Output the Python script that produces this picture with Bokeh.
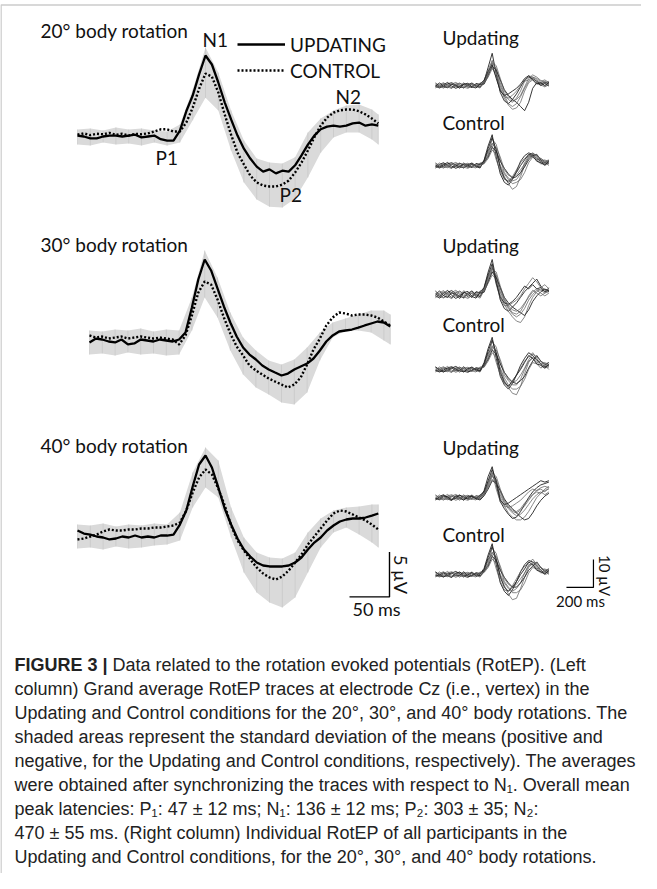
import math
from bokeh.plotting import figure
from bokeh.models import Range1d, Label, Legend, LegendItem, BoxAnnotation
from bokeh.embed import file_html
from bokeh.resources import INLINE

# ------------------------------------------------------------------ data
rotations = ["20° body rotation", "30° body rotation", "40° body rotation"]

ga_t = list(range(0, 377, 8))                 # ms, grand-average sampling
band_t = list(range(0, 369, 16)) + [376]      # ms, SD band sampling
ind_t = list(range(0, 841, 30))               # ms, individual traces sampling

# grand averages (µV, negative up)
upd20 = [-0.1, 0.0, 0.2, 0.2, 0.0, -0.1, -0.1, 0.0, -0.1, -0.2,
         0.1, 0.0, -0.1, 0.3, 0.45, 0.45, -0.65, -2.8, -4.55, -6.9,
         -9.0, -8.0, -6.0, -3.8, -1.9, -0.1, 1.35, 2.45, 3.35, 3.9,
         3.65, 4.1, 3.8, 3.9, 3.2, 2.1, 0.9, -0.1, -0.8, -1.1,
         -1.2, -1.1, -1.2, -1.45, -1.55, -1.2, -1.35, -1.2]
ctl20 = [-0.2, -0.35, -0.15, -0.3, -0.25, -0.4, -0.2, -0.3, -0.1, -0.3,
         -0.25, -0.35, -0.55, -0.8, -0.8, -0.55, -0.55, -1.55, -3.2, -5.3,
         -7.0, -6.65, -4.9, -2.45, -0.2, 1.8, 3.1, 4.35, 5.1, 5.45,
         5.55, 5.55, 5.35, 4.9, 4.0, 2.9, 1.55, 0.1, -1.2, -2.1,
         -2.65, -2.9, -3.0, -3.0, -2.8, -2.45, -2.0, -1.45]
band20_hi = [-0.78, -0.89, -0.67, -1.0, -0.78, -0.89, -0.67, -0.56, -1.33, -5.2,
             -9.9, -7.1, -2.9, 0.44, 2.45, 2.9, 3.0, 2.3, -0.44, -2.0,
             -2.9, -3.45, -3.55, -3.0, -2.45]
band20_lo = [0.89, 1.0, 0.67, 0.89, 0.78, 1.0, 0.67, 1.0, 0.67, -1.8,
             -4.3, -2.9, 1.55, 5.1, 7.0, 7.8, 7.9, 6.9, 4.55, 1.8,
             0.1, -0.45, -0.45, 0.33, 0.89]

upd30 = [0.22, -0.22, -0.11, 0.11, 0.22, -0.11, 0.44, 0.33, -0.11, 0.0,
         0.11, -0.11, 0.0, 0.11, -0.11, -0.89, -3.67, -6.78, -9.0, -7.78,
         -5.78, -3.78, -2.0, -0.44, 0.78, 1.56, 2.11, 2.78, 3.22, 3.56,
         3.89, 3.67, 3.22, 2.89, 2.56, 2.0, 1.11, 0.11, -0.56, -1.0,
         -1.11, -1.22, -1.44, -1.67, -1.89, -2.11, -2.0, -1.56]
ctl30 = [-0.56, -0.33, -0.44, -0.22, -0.33, -0.44, -0.22, -0.33, -0.44, -0.33,
         -0.22, -0.33, -0.22, -0.11, 0.44, -0.56, -2.78, -5.33, -6.56, -6.22,
         -4.56, -2.56, -0.78, 0.67, 1.67, 2.78, 3.33, 3.78, 4.22, 4.56,
         4.89, 5.22, 4.89, 4.11, 2.67, 1.0, -0.22, -1.67, -2.56, -3.11,
         -3.0, -2.78, -2.89, -2.89, -2.78, -2.56, -2.11, -1.67]
band30_hi = [-1.11, -1.0, -1.22, -1.11, -1.33, -1.0, -1.22, -1.11, -4.78, -10.0,
             -7.0, -3.11, -0.33, 1.11, 2.22, 2.67, 2.11, 0.78, -0.89, -2.0,
             -2.44, -2.89, -3.33, -3.33, -2.89]
band30_lo = [1.56, 1.44, 1.67, 1.33, 1.56, 1.44, 1.67, 1.56, -1.11, -4.78,
             -2.56, 1.11, 3.78, 5.22, 6.0, 6.89, 7.11, 5.78, 2.22, -0.33,
             -1.11, -1.11, -0.89, 0.0, 0.44]

upd40 = [-0.78, -0.44, -0.33, -0.11, 0.0, 0.22, 0.11, -0.11, 0.0, -0.22,
         0.0, -0.11, 0.0, -0.22, -0.22, -0.33, -1.44, -3.0, -5.67, -8.11,
         -9.11, -7.78, -5.56, -3.22, -1.44, 0.11, 1.33, 2.11, 2.78, 3.11,
         3.22, 3.22, 3.22, 3.11, 2.78, 2.22, 1.33, 0.56, 0.0, -0.78,
         -1.33, -1.78, -2.0, -2.11, -2.11, -2.22, -2.44, -2.67]
ctl40 = [0.22, 0.11, -0.11, -0.33, -0.67, -0.89, -0.78, -0.78, -0.89, -0.89,
         -1.0, -1.0, -1.11, -1.11, -1.22, -1.33, -1.67, -3.0, -5.0, -6.67,
         -7.56, -7.0, -5.44, -3.56, -1.33, 0.33, 1.44, 2.44, 3.33, 4.0,
         4.44, 4.67, 4.33, 3.67, 2.78, 1.89, 0.78, -0.11, -1.0, -1.89,
         -2.67, -3.0, -2.89, -2.56, -2.22, -1.89, -1.44, -0.89]
band40_hi = [-1.44, -1.33, -1.56, -1.22, -1.44, -1.33, -1.56, -1.44, -2.78, -7.22,
             -10.0, -8.56, -3.33, 0.0, 1.67, 2.22, 2.33, 1.67, -0.56, -2.11,
             -3.0, -3.33, -3.44, -3.67, -3.67]
band40_lo = [1.22, 1.11, 1.33, 1.0, 1.22, 1.11, 0.89, 0.78, 0.33, -3.33,
             -5.56, -4.44, 0.0, 3.89, 6.11, 7.22, 7.78, 6.67, 3.89, 1.11,
             -0.56, -1.11, -0.33, 0.56, 1.11]

# individual participants (µV, negative up)
ind_upd20 = [
    [0.3, 0.9, 0.2, -0.6, -1.0, -0.2, 0.5, 0.8, -0.3, -0.9, 0.1, 0.6, -1.5, -6.5, -11.5, -4.0, 2.5, 5.5, 6.5, 5.0, 3.0, 0.5, -2.0, -3.0, -2.5, -1.5, -0.5, -1.2, -0.6],
    [-0.7, -0.1, 0.8, 0.4, -0.5, -1.1, -0.3, 0.6, 1.0, 0.2, -0.6, -0.2, -2.0, -5.5, -9.0, -5.0, 1.0, 4.5, 7.0, 8.5, 8.0, 6.0, 2.0, -1.0, -2.0, -1.0, -0.2, 0.5, -0.3],
    [0.9, -0.4, -1.0, 0.1, 0.7, 0.3, -0.8, -0.2, 0.6, -0.5, 0.4, 0.9, -1.0, -4.5, -8.0, -6.0, -1.0, 3.0, 5.0, 6.0, 4.5, 2.0, -1.5, -3.5, -3.0, -2.0, -1.0, -1.5, -0.5],
    [-0.2, 0.5, -0.3, -1.1, 0.2, 1.0, 0.4, -0.6, -0.1, 0.8, -0.7, -0.4, -0.5, -3.5, -7.0, -5.5, -2.0, 1.5, 3.5, 5.0, 6.0, 7.5, 9.0, 6.0, 1.0, -1.0, 0.0, -0.8, 0.2],
    [0.6, 0.1, -0.7, 0.5, 1.1, -0.4, -0.9, 0.3, 0.2, -0.8, 0.7, 0.0, -1.2, -4.0, -6.5, -3.0, 1.5, 4.0, 4.5, 3.5, 2.0, 0.0, -1.5, -2.0, -3.0, -2.5, -1.5, -2.0, -1.0],
    [-1.0, 0.4, 0.9, -0.2, -0.6, 0.5, 0.2, -1.0, 0.7, 0.4, -0.3, 0.5, -0.8, -3.0, -6.0, -4.5, 0.0, 3.5, 6.5, 7.5, 6.5, 4.0, 1.0, -1.5, -2.5, -1.5, -0.8, 0.2, -0.5],
    [0.1, -0.9, 0.3, 0.8, -0.4, 0.0, 1.0, -0.5, -0.8, 0.5, 0.9, -0.6, -1.8, -5.0, -7.5, -2.5, 2.0, 3.5, 3.0, 2.0, 1.0, -0.5, -2.5, -3.5, -2.0, -0.5, -1.0, 0.0, -1.2],
    [0.4, 0.7, -0.5, -0.3, 0.9, -0.7, 0.1, 1.0, -0.6, -0.2, 0.3, -0.9, -1.0, -4.2, -8.5, -7.0, -2.5, 2.0, 4.0, 5.5, 5.0, 3.5, 0.5, -2.5, -3.8, -3.0, -1.8, -1.0, -1.5],
]
ind_ctl20 = [
    [0.9, -0.4, -1.0, 0.1, 0.7, 0.3, -0.8, -0.2, 0.6, -0.5, 0.4, 0.9, -2.0, -7.0, -11.0, -3.0, 3.0, 6.0, 7.0, 5.0, 2.0, -1.5, -3.5, -4.5, -4.0, -2.5, -1.5, -0.5, -1.0],
    [0.6, 0.1, -0.7, 0.5, 1.1, -0.4, -0.9, 0.3, 0.2, -0.8, 0.7, 0.0, -1.5, -5.0, -8.0, -6.0, 0.5, 4.0, 6.5, 8.5, 7.5, 4.0, 0.0, -3.0, -4.5, -3.0, -1.0, 0.0, -0.8],
    [0.1, -0.9, 0.3, 0.8, -0.4, 0.0, 1.0, -0.5, -0.8, 0.5, 0.9, -0.6, -0.8, -4.0, -9.5, -7.5, -2.0, 2.5, 4.5, 5.5, 5.0, 3.0, -1.0, -3.5, -3.0, -2.0, -2.5, -1.5, -0.5],
    [0.3, 0.9, 0.2, -0.6, -1.0, -0.2, 0.5, 0.8, -0.3, -0.9, 0.1, 0.6, -1.2, -3.0, -6.5, -5.0, -1.5, 1.0, 3.0, 4.5, 4.0, 2.5, 0.5, -2.0, -3.5, -4.0, -2.0, -1.0, -1.8],
    [0.4, 0.7, -0.5, -0.3, 0.9, -0.7, 0.1, 1.0, -0.6, -0.2, 0.3, -0.9, -1.0, -5.5, -7.0, -2.0, 2.0, 5.0, 5.5, 4.0, 1.5, -1.0, -2.5, -3.5, -4.5, -3.5, -1.5, -2.0, -1.2],
    [-0.7, -0.1, 0.8, 0.4, -0.5, -1.1, -0.3, 0.6, 1.0, 0.2, -0.6, -0.2, -0.6, -2.5, -5.5, -4.0, 0.0, 3.0, 5.0, 6.5, 6.0, 5.0, 2.5, -1.0, -3.0, -2.0, -0.5, -1.2, 0.0],
    [-0.2, 0.5, -0.3, -1.1, 0.2, 1.0, 0.4, -0.6, -0.1, 0.8, -0.7, -0.4, -1.6, -6.0, -10.0, -5.5, 1.0, 4.5, 6.0, 4.5, 2.5, 0.0, -2.0, -4.0, -3.5, -1.5, -1.0, -0.2, -1.5],
    [-1.0, 0.4, 0.9, -0.2, -0.6, 0.5, 0.2, -1.0, 0.7, 0.4, -0.3, 0.5, -0.9, -3.5, -7.5, -6.5, -3.0, 1.5, 3.5, 4.0, 3.5, 1.5, -0.5, -2.5, -4.0, -3.5, -2.5, -1.5, -2.0],
]
ind_upd30 = [
    [0.4, 1.3, 0.3, -0.8, -1.4, -0.3, 0.7, 1.1, -0.4, -1.3, 0.1, 0.8, -2.5, -8.0, -12.5, -5.0, 2.0, 5.0, 6.0, 4.5, 3.0, 1.0, -1.0, -2.5, -4.0, -5.5, -3.0, -1.5, -2.0],
    [-1.0, -0.1, 1.1, 0.6, -0.7, -1.5, -0.4, 0.8, 1.4, 0.3, -0.8, -0.3, -2.0, -6.0, -9.5, -6.5, 0.0, 3.5, 6.0, 8.0, 9.5, 10.0, 8.0, 4.0, 1.0, -1.0, -2.0, -1.0, -1.5],
    [1.3, -0.6, -1.4, 0.1, 1.0, 0.4, -1.1, -0.3, 0.8, -0.7, 0.6, 1.3, -1.5, -5.0, -8.5, -7.0, -2.0, 2.0, 4.5, 6.5, 7.0, 6.0, 3.5, 0.5, -1.5, -0.5, 0.5, -0.5, -1.0],
    [-0.3, 0.7, -0.4, -1.5, 0.3, 1.4, 0.6, -0.8, -0.1, 1.1, -1.0, -0.6, -0.8, -4.5, -8.0, -6.0, -2.5, 1.0, 3.0, 4.5, 5.5, 6.5, 7.5, 5.5, 2.5, 0.5, -1.0, -2.0, -1.0],
    [0.8, 0.1, -1.0, 0.7, 1.5, -0.6, -1.3, 0.4, 0.3, -1.1, 1.0, 0.0, -2.0, -6.5, -10.0, -3.5, 1.5, 4.0, 4.0, 3.0, 2.0, 0.5, -2.0, -4.0, -6.0, -4.5, -2.5, -3.5, -2.0],
    [-1.4, 0.6, 1.3, -0.3, -0.8, 0.7, 0.3, -1.4, 1.0, 0.6, -0.4, 0.7, -1.2, -4.0, -7.0, -5.5, -1.0, 2.5, 5.0, 7.0, 8.0, 7.0, 5.0, 2.0, 0.0, -1.5, -0.5, 0.5, -0.5],
    [0.1, -1.3, 0.4, 1.1, -0.6, 0.0, 1.4, -0.7, -1.1, 0.7, 1.3, -0.8, -2.5, -7.0, -11.0, -4.0, 1.0, 3.0, 3.5, 2.5, 1.0, -1.0, -3.0, -2.0, -3.5, -2.0, -2.5, -1.0, -1.5],
    [0.6, 1.0, -0.7, -0.4, 1.3, -1.0, 0.1, 1.4, -0.8, -0.3, 0.4, -1.3, -1.5, -5.5, -9.0, -8.0, -3.0, 1.5, 4.0, 5.5, 6.0, 5.0, 3.0, 1.0, -1.0, -2.0, -1.5, -0.5, -2.5],
]
ind_ctl30 = [
    [-1.0, 0.4, 0.9, -0.2, -0.6, 0.5, 0.2, -1.0, 0.7, 0.4, -0.3, 0.5, -2.5, -7.5, -11.5, -4.0, 2.5, 5.5, 7.0, 5.0, 2.0, -1.5, -4.0, -6.0, -5.0, -3.5, -2.0, -1.0, -1.5],
    [0.9, -0.4, -1.0, 0.1, 0.7, 0.3, -0.8, -0.2, 0.6, -0.5, 0.4, 0.9, -1.8, -5.5, -8.5, -6.0, 0.0, 4.0, 6.5, 8.5, 9.0, 6.0, 1.5, -2.5, -4.5, -3.0, -1.5, -0.5, -1.0],
    [0.4, 0.7, -0.5, -0.3, 0.9, -0.7, 0.1, 1.0, -0.6, -0.2, 0.3, -0.9, -1.0, -4.5, -10.0, -8.0, -2.5, 2.0, 4.0, 5.5, 5.5, 3.5, 0.0, -3.0, -4.0, -2.5, -3.0, -2.0, -0.8],
    [-0.7, -0.1, 0.8, 0.4, -0.5, -1.1, -0.3, 0.6, 1.0, 0.2, -0.6, -0.2, -1.4, -3.5, -7.0, -5.5, -2.0, 1.0, 3.0, 4.5, 5.0, 4.0, 2.5, -0.5, -3.0, -5.0, -3.0, -1.5, -2.5],
    [0.6, 0.1, -0.7, 0.5, 1.1, -0.4, -0.9, 0.3, 0.2, -0.8, 0.7, 0.0, -1.2, -6.0, -7.5, -2.5, 2.0, 5.0, 6.0, 4.5, 2.0, -0.5, -3.0, -4.5, -6.0, -4.0, -2.0, -2.5, -1.5],
    [0.1, -0.9, 0.3, 0.8, -0.4, 0.0, 1.0, -0.5, -0.8, 0.5, 0.9, -0.6, -0.8, -3.0, -6.0, -4.5, -0.5, 3.0, 5.5, 7.0, 7.0, 6.0, 3.5, 0.0, -2.5, -2.0, -0.5, -1.5, 0.0],
    [0.3, 0.9, 0.2, -0.6, -1.0, -0.2, 0.5, 0.8, -0.3, -0.9, 0.1, 0.6, -2.0, -6.5, -10.5, -6.0, 1.0, 4.5, 6.0, 4.0, 2.0, 0.0, -2.5, -5.0, -4.0, -2.0, -1.5, -0.5, -2.0],
    [-0.2, 0.5, -0.3, -1.1, 0.2, 1.0, 0.4, -0.6, -0.1, 0.8, -0.7, -0.4, -1.0, -4.0, -8.0, -7.0, -3.5, 1.0, 3.5, 4.5, 4.0, 2.0, -0.5, -3.5, -5.5, -4.5, -3.0, -2.0, -2.5],
]
ind_upd40 = [
    [0.6, 0.1, -0.7, 0.5, 1.1, -0.4, -0.9, 0.3, 0.2, -0.8, 0.7, 0.0, -2.5, -7.5, -11.0, -4.5, 1.5, 4.0, 6.0, 7.5, 7.0, 5.0, 2.5, 0.0, -2.0, -3.5, -4.5, -5.0, -5.5],
    [0.3, 0.9, 0.2, -0.6, -1.0, -0.2, 0.5, 0.8, -0.3, -0.9, 0.1, 0.6, -1.5, -5.0, -8.0, -5.0, 0.0, 3.0, 5.5, 7.0, 8.0, 8.0, 7.0, 5.0, 2.5, 0.0, -1.5, -3.0, -4.0],
    [-1.0, 0.4, 0.9, -0.2, -0.6, 0.5, 0.2, -1.0, 0.7, 0.4, -0.3, 0.5, -1.0, -4.0, -7.5, -6.5, -2.0, 1.5, 3.5, 5.0, 5.5, 4.5, 3.0, 1.0, -1.0, -2.0, -1.5, -2.5, -3.0],
    [0.9, -0.4, -1.0, 0.1, 0.7, 0.3, -0.8, -0.2, 0.6, -0.5, 0.4, 0.9, -0.6, -3.0, -6.0, -5.0, -2.5, 0.5, 2.5, 4.0, 5.5, 7.0, 8.0, 7.5, 5.5, 3.0, 1.0, -0.5, -1.5],
    [0.1, -0.9, 0.3, 0.8, -0.4, 0.0, 1.0, -0.5, -0.8, 0.5, 0.9, -0.6, -1.6, -5.5, -9.0, -3.0, 1.5, 3.0, 3.5, 3.0, 2.0, 1.0, -0.5, -2.0, -3.0, -2.5, -3.5, -4.0, -3.5],
    [-0.7, -0.1, 0.8, 0.4, -0.5, -1.1, -0.3, 0.6, 1.0, 0.2, -0.6, -0.2, -1.0, -3.5, -6.5, -5.0, -1.0, 2.0, 4.0, 5.5, 6.5, 6.0, 4.5, 2.5, 0.5, -1.0, -2.0, -1.0, -2.0],
    [0.4, 0.7, -0.5, -0.3, 0.9, -0.7, 0.1, 1.0, -0.6, -0.2, 0.3, -0.9, -2.0, -6.0, -10.0, -6.0, 1.0, 2.5, 2.0, 1.0, 0.0, -1.0, -2.0, -3.0, -4.0, -5.0, -6.0, -5.5, -6.0],
    [-0.2, 0.5, -0.3, -1.1, 0.2, 1.0, 0.4, -0.6, -0.1, 0.8, -0.7, -0.4, -1.2, -4.5, -8.5, -7.5, -3.0, 1.0, 3.0, 4.5, 5.0, 4.0, 2.0, 0.5, -1.0, -2.5, -3.0, -2.0, -3.5],
]
ind_ctl40 = [
    [-0.7, -0.1, 0.8, 0.4, -0.5, -1.1, -0.3, 0.6, 1.0, 0.2, -0.6, -0.2, -2.2, -7.0, -11.0, -3.5, 3.0, 6.0, 7.5, 5.5, 2.5, -1.0, -3.5, -5.0, -4.5, -3.0, -1.5, -0.5, -1.0],
    [-0.2, 0.5, -0.3, -1.1, 0.2, 1.0, 0.4, -0.6, -0.1, 0.8, -0.7, -0.4, -1.6, -5.0, -8.0, -5.5, 0.5, 4.0, 7.0, 9.0, 8.5, 5.0, 1.0, -2.5, -4.0, -2.5, -1.0, 0.0, -0.5],
    [0.3, 0.9, 0.2, -0.6, -1.0, -0.2, 0.5, 0.8, -0.3, -0.9, 0.1, 0.6, -0.9, -4.0, -9.5, -7.5, -2.0, 2.5, 4.5, 6.0, 5.0, 3.0, -0.5, -3.5, -3.5, -2.0, -2.5, -1.5, -0.5],
    [-1.0, 0.4, 0.9, -0.2, -0.6, 0.5, 0.2, -1.0, 0.7, 0.4, -0.3, 0.5, -1.3, -3.0, -6.5, -5.0, -1.5, 1.0, 3.0, 4.5, 4.5, 3.0, 1.0, -1.5, -3.0, -4.5, -2.5, -1.0, -2.0],
    [0.9, -0.4, -1.0, 0.1, 0.7, 0.3, -0.8, -0.2, 0.6, -0.5, 0.4, 0.9, -1.0, -5.5, -7.0, -2.0, 2.5, 5.5, 6.0, 4.0, 1.5, -1.0, -3.0, -4.0, -5.5, -3.5, -1.5, -2.0, -1.2],
    [0.4, 0.7, -0.5, -0.3, 0.9, -0.7, 0.1, 1.0, -0.6, -0.2, 0.3, -0.9, -0.7, -2.5, -5.5, -4.0, 0.0, 3.0, 5.0, 6.5, 6.5, 5.5, 3.0, -0.5, -2.5, -2.0, -0.5, -1.2, 0.0],
    [0.6, 0.1, -0.7, 0.5, 1.1, -0.4, -0.9, 0.3, 0.2, -0.8, 0.7, 0.0, -1.8, -6.0, -10.0, -5.5, 1.0, 4.5, 6.0, 4.5, 2.5, 0.0, -2.0, -4.5, -3.5, -1.5, -1.0, -0.2, -1.5],
    [0.1, -0.9, 0.3, 0.8, -0.4, 0.0, 1.0, -0.5, -0.8, 0.5, 0.9, -0.6, -0.9, -3.5, -7.5, -6.5, -3.0, 1.5, 3.5, 4.5, 3.5, 1.5, -0.5, -3.0, -4.5, -4.0, -2.5, -1.5, -2.0],
]

peak_labels = ["N1", "P1", "P2", "N2"]
legend_labels = ["UPDATING", "CONTROL"]
cond_labels = ["Updating", "Control"]
scale_left = ("5 µV", "50 ms", 5, 50)
scale_right = ("10 µV", "200 ms", 10, 200)

caption_bold = "FIGURE 3 |"
caption_first = "Data related to the rotation evoked potentials (RotEP). (Left"
caption_lines = [
    "column) Grand average RotEP traces at electrode Cz (i.e., vertex) in the",
    "Updating and Control conditions for the 20°, 30°, and 40° body rotations. The",
    "shaded areas represent the standard deviation of the means (positive and",
    "negative, for the Updating and Control conditions, respectively). The averages",
    "were obtained after synchronizing the traces with respect to N\u2081. Overall mean",
    "peak latencies: P\u2081: 47 \u00b1 12 ms; N\u2081: 136 \u00b1 12 ms; P\u2082: 303 \u00b1 35; N\u2082:",
    "470 \u00b1 55 ms. (Right column) Individual RotEP of all participants in the",
    "Updating and Control conditions, for the 20°, 30°, and 40° body rotations.",
]

# ------------------------------------------------------------------ layout
PAGE_L, PAGE_R, PAGE_T, PAGE_B = 8, 649, 8, 881
W, H = PAGE_R - PAGE_L, PAGE_B - PAGE_T

GA_PX_MS, GA_PX_UV = 0.8, 9.0
IND_PX_MS, IND_PX_UV = 0.135, 2.8
left_pos = [(85, 144), (97, 348), (85, 545)]          # page px of t=0 / 0 µV
right_x0 = 443
right_y0 = [(93, 173), (302, 377), (505, 582)]
title_y = [38, 252, 453]
cond_label_y = [(45, 130), (253, 332), (455, 542)]

LABEL_FONT = "Lato"
CAP_FONT = "Liberation Sans"
CAP_SIZE = "18px"

p = figure(width=W, height=H, x_range=Range1d(PAGE_L, PAGE_R),
           y_range=Range1d(PAGE_B, PAGE_T), output_backend="svg",
           toolbar_location=None, x_axis_type=None, y_axis_type=None,
           min_border=0, outline_line_color=None)
p.grid.visible = False
p.background_fill_color = "white"


def xrange_for(x0, sx):
    return Range1d((PAGE_L - x0) / sx, (PAGE_R - x0) / sx)


def yrange_for(y0, sy):
    return Range1d((PAGE_B - y0) / sy, (PAGE_T - y0) / sy)


xr, yr = {}, {}
for k, (x0, y0) in enumerate(left_pos):
    xr[f"L{k}"] = xrange_for(x0, GA_PX_MS)
    yr[f"L{k}"] = yrange_for(y0, GA_PX_UV)
xr["IND"] = xrange_for(right_x0, IND_PX_MS)
for k, (yu, yc) in enumerate(right_y0):
    yr[f"U{k}"] = yrange_for(yu, IND_PX_UV)
    yr[f"C{k}"] = yrange_for(yc, IND_PX_UV)
p.extra_x_ranges = xr
p.extra_y_ranges = yr


def label(x, y, text, size="19px", font=LABEL_FONT, align="left", angle=0.0,
          style="normal", color="#111111"):
    p.add_layout(Label(x=x, y=y, text=text, text_font=font, text_font_size=size,
                       text_align=align, text_baseline="middle", angle=angle,
                       text_font_style=style, text_color=color))


# frame (top and left edges)
p.add_layout(BoxAnnotation(left=8.5, right=700, top=12.5, bottom=950,
                           fill_alpha=0, line_color="#555555", line_width=1.6))

groups = [(upd20, ctl20, band20_hi, band20_lo),
          (upd30, ctl30, band30_hi, band30_lo),
          (upd40, ctl40, band40_hi, band40_lo)]
legend_renderers = None
for k, (u, c, hi, lo) in enumerate(groups):
    nm = f"L{k}"
    p.varea(x=band_t, y1=lo, y2=hi, fill_color="#dadada",
            x_range_name=nm, y_range_name=nm)
    p.segment(x0=band_t, y0=lo, x1=band_t, y1=hi, line_color="#c2c2c2",
              line_width=0.6, x_range_name=nm, y_range_name=nm)
    rd = p.line(ga_t, c, line_color="black", line_width=2.4, line_dash="2 2",
                x_range_name=nm, y_range_name=nm)
    rs = p.line(ga_t, u, line_color="black", line_width=2.3,
                x_range_name=nm, y_range_name=nm)
    if k == 0:
        legend_renderers = (rs, rd)
    label(48, title_y[k], rotations[k])

# individual traces
for k, (tu, tc) in enumerate([(ind_upd20, ind_ctl20), (ind_upd30, ind_ctl30),
                              (ind_upd40, ind_ctl40)]):
    for nm, traces in ((f"U{k}", tu), (f"C{k}", tc)):
        for j, tr in enumerate(traces):
            dark = j % 3 == 0
            p.line(ind_t[:len(tr)], tr, line_color="#222222" if dark else "#5a5a5a",
                   line_width=1.0 if dark else 0.8, line_alpha=0.9,
                   x_range_name="IND", y_range_name=nm)
    label(450, cond_label_y[k][0], cond_labels[0])
    label(450, cond_label_y[k][1], cond_labels[1])

# peak labels on the first panel
for txt, (x, y) in zip(peak_labels, [(210, 47), (163, 165), (287, 202), (343, 104)]):
    label(x, y, txt)

# legend
leg = Legend(items=[LegendItem(label=legend_labels[0], renderers=[legend_renderers[0]]),
                    LegendItem(label=legend_labels[1], renderers=[legend_renderers[1]])],
             location=(237, 790), border_line_color=None, background_fill_alpha=0,
             padding=0, margin=0, spacing=0, glyph_width=48, glyph_height=26,
             label_height=26, label_standoff=5, label_text_font=LABEL_FONT,
             label_text_font_size="19px", label_text_color="#111111")
p.add_layout(leg)

# scale bars
uv_lbl, ms_lbl, uv_len, ms_len = scale_left
bt0, bv0 = 340, 6.6
p.line([bt0, bt0 + ms_len, bt0 + ms_len], [bv0, bv0, bv0 - uv_len],
       line_color="black", line_width=1.4, x_range_name="L2", y_range_name="L2")
label(408, 582, uv_lbl, size="18px", align="center", angle=-math.pi / 2)
label(384, 616, ms_lbl, size="18px", align="center")

uv_lbl, ms_lbl, uv_len, ms_len = scale_right
rt0, rv0 = 970, 4.6
p.line([rt0, rt0 + ms_len, rt0 + ms_len], [rv0, rv0, rv0 - uv_len],
       line_color="black", line_width=1.2, x_range_name="IND", y_range_name="C2")
label(612, 583, uv_lbl, size="15px", align="center", angle=-math.pi / 2)
label(588, 608, ms_lbl, size="15px", align="center")

# caption
CAP_X, CAP_Y0, CAP_DY = 22, 672, 24.1
label(CAP_X, CAP_Y0, caption_bold, size=CAP_SIZE, font=CAP_FONT, style="bold",
      color="#222222")
label(CAP_X + 98, CAP_Y0, caption_first, size=CAP_SIZE, font=CAP_FONT, color="#222222")
for i, line in enumerate(caption_lines, start=1):
    label(CAP_X, CAP_Y0 + CAP_DY * i, line, size=CAP_SIZE, font=CAP_FONT, color="#222222")

open("out.html", "w").write(file_html(p, INLINE))
